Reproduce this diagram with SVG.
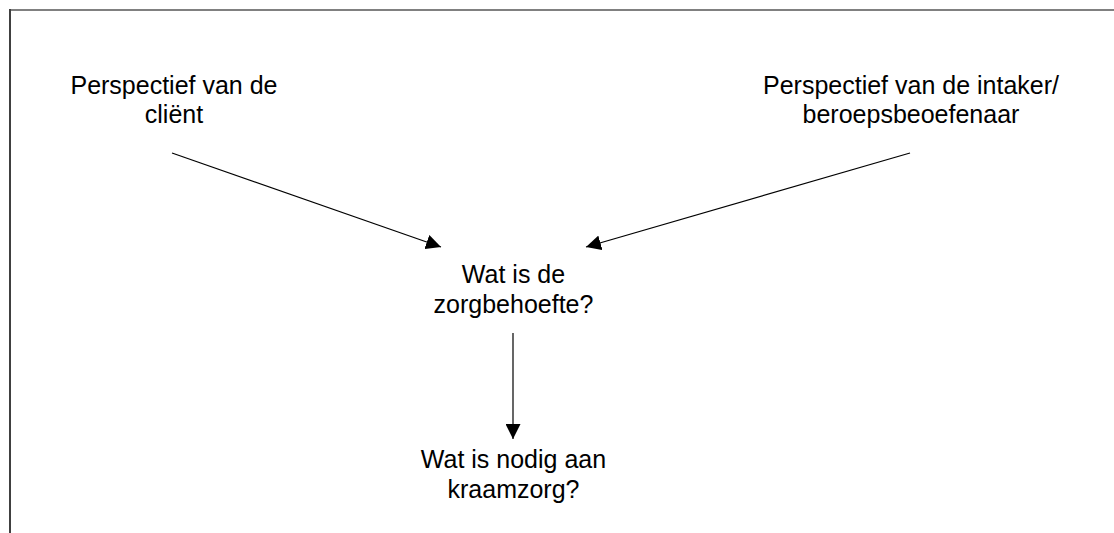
<svg xmlns="http://www.w3.org/2000/svg" width="1114" height="533" viewBox="0 0 1114 533">
<style>
  text { font-family: "Liberation Sans", Arial, sans-serif; font-size: 25px; fill: #000; text-anchor: middle; }
  .conn line { stroke: #000; stroke-width: 1.2; }
</style>
<defs>
  <marker id="ah" viewBox="0 0 10 10" refX="10" refY="5" markerWidth="15" markerHeight="15" markerUnits="userSpaceOnUse" orient="auto">
    <path d="M0,0 L10,5 L0,10 Z" fill="#000"/>
  </marker>
</defs>
<rect width="1114" height="533" fill="#fff"/>
<g id="frame">
  <line x1="10" y1="10" x2="1114" y2="10" stroke="#808080" stroke-width="2"/>
  <line x1="10" y1="9" x2="10" y2="533" stroke="#404040" stroke-width="2"/>
</g>
<g id="client">
  <text x="174" y="94">Perspectief van de</text>
  <text x="174" y="123">cliënt</text>
</g>
<g id="intaker">
  <text x="911" y="94">Perspectief van de intaker/</text>
  <text x="911" y="123">beroepsbeoefenaar</text>
</g>
<g id="zorgbehoefte">
  <text x="513.5" y="283">Wat is de</text>
  <text x="513.5" y="313">zorgbehoefte?</text>
</g>
<g id="kraamzorg">
  <text x="513.5" y="468">Wat is nodig aan</text>
  <text x="513.5" y="498">kraamzorg?</text>
</g>
<g class="conn" id="connectors">
  <line x1="172" y1="153" x2="441" y2="247" marker-end="url(#ah)"/>
  <line x1="910" y1="153" x2="586" y2="247" marker-end="url(#ah)"/>
  <line x1="513" y1="333" x2="513" y2="439" marker-end="url(#ah)"/>
</g>
</svg>
